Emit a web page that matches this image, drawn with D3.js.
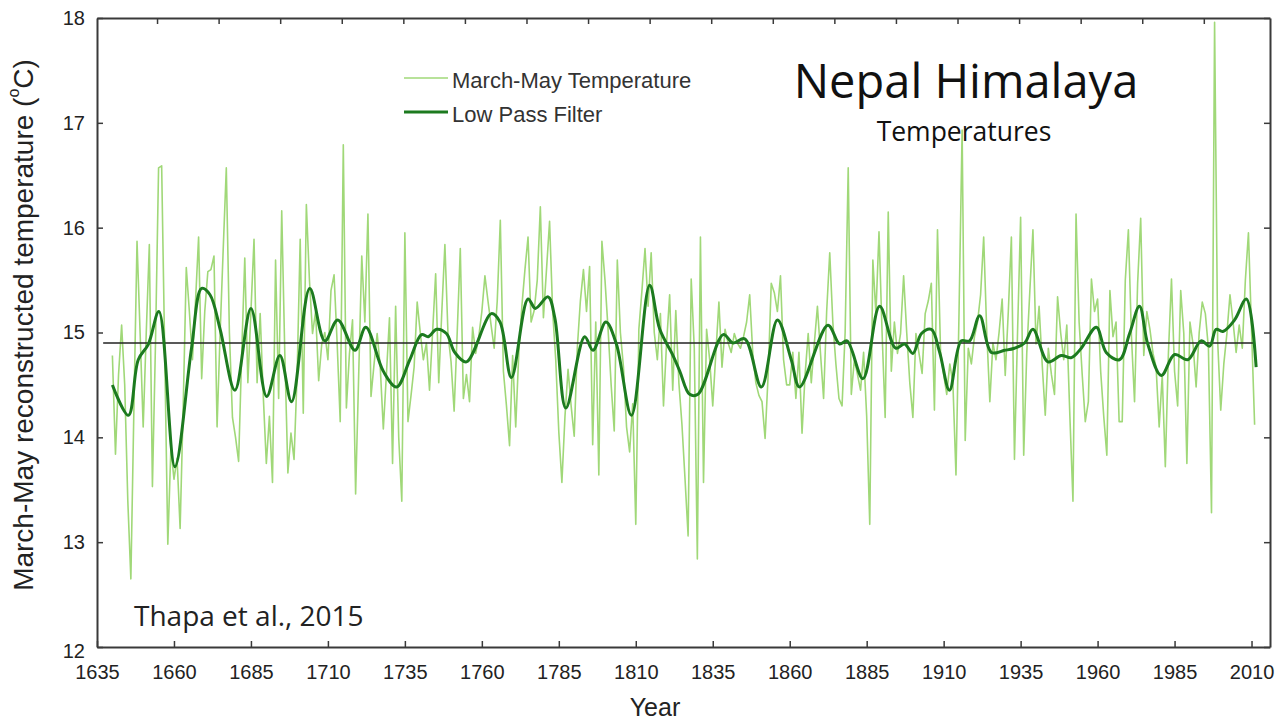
<!DOCTYPE html>
<html><head><meta charset="utf-8">
<script src="https://cdn.jsdelivr.net/npm/d3@7"></script>
<style>
html,body{margin:0;padding:0;background:#fff;}
svg{display:block;}
</style></head>
<body>
<svg id="chart" width="1287" height="722"></svg>
<script>
// ---- data ----
const startYear = 1640;
const temperature = [
// 1640-1649
14.78,13.84,14.6,15.07,14.5,13.4,12.65,14.3,15.87,15.0,
// 1650-1659
14.10,15.0,15.84,13.53,14.9,16.57,16.59,14.8,12.98,13.9,
// 1660-1669
13.6,13.8,13.13,14.3,15.62,15.2,14.74,15.3,15.91,14.56,
// 1670-1679
15.2,15.58,15.6,15.73,14.1,15.0,15.8,16.57,15.0,14.19,
// 1680-1689
14.0,13.77,14.8,15.71,14.52,15.2,15.89,14.52,15.18,14.4,
// 1690-1699
13.75,14.2,13.57,15.69,14.37,16.16,14.8,13.66,14.04,13.79,
// 1700-1709
14.6,15.89,14.23,16.22,15.5,14.99,15.2,14.54,14.89,15.0,
// 1710-1719
14.74,15.4,15.55,14.9,14.15,16.79,14.28,14.8,15.12,13.46,
// 1720-1729
14.6,15.73,15.1,16.13,14.39,14.7,14.99,14.67,14.08,14.6,
// 1730-1739
15.14,13.75,15.25,14.0,13.39,15.95,14.15,14.4,14.67,15.29,
// 1740-1749
15.0,14.74,14.9,14.45,15.0,15.56,14.52,15.2,15.84,14.99,
// 1750-1759
14.72,14.25,15.0,15.8,14.37,14.6,14.34,15.05,14.8,14.96,
// 1760-1769
15.2,15.54,15.3,15.07,14.85,15.3,16.07,14.63,14.3,13.92,
// 1770-1779
14.78,14.1,14.8,15.25,15.6,15.91,15.1,15.21,15.5,16.2,
// 1780-1789
15.14,15.6,16.06,15.2,14.74,14.05,13.57,14.2,14.65,14.3,
// 1790-1799
14.01,14.85,15.3,15.6,15.2,15.63,13.93,15.1,13.64,15.87,
// 1800-1809
15.5,15.03,14.5,14.06,15.69,15.0,14.67,14.1,13.86,14.32,
// 1810-1819
13.17,15.03,15.4,15.8,15.25,15.76,15.0,14.74,15.18,14.3,
// 1820-1829
14.9,15.36,14.45,15.21,14.52,14.12,13.6,13.06,15.51,14.85,
// 1830-1839
12.84,15.91,13.57,15.03,14.74,14.3,14.8,15.29,14.67,15.03,
// 1840-1849
14.9,14.81,14.99,14.9,14.85,14.96,15.1,15.36,14.8,14.52,
// 1850-1859
14.4,14.34,13.99,14.6,15.47,15.38,15.2,15.54,14.74,14.5,
// 1860-1869
14.5,14.81,14.37,14.81,14.04,14.6,14.99,14.52,14.9,15.25,
// 1870-1879
14.8,14.37,15.2,15.76,15.1,14.7,14.37,14.3,15.0,16.57,
// 1880-1889
14.41,14.74,14.6,14.45,14.81,14.2,13.17,15.69,15.18,15.96,
// 1890-1899
15.0,14.19,16.15,14.63,15.1,14.8,14.99,15.54,15.0,14.52,
// 1900-1909
14.19,14.99,14.8,14.61,15.18,15.3,15.47,14.26,15.98,14.81,
// 1910-1919
14.6,14.41,14.7,14.52,13.64,15.2,16.93,13.97,14.85,14.7,
// 1920-1929
14.96,15.1,15.36,15.91,15.0,14.34,14.9,14.74,15.0,15.32,
// 1930-1939
14.59,15.2,15.91,13.79,15.0,16.1,13.83,14.81,15.4,15.98,
// 1940-1949
14.89,15.25,14.7,14.21,14.85,14.6,14.41,15.34,15.0,14.74,
// 1950-1959
15.07,14.2,13.39,16.13,15.1,14.6,14.15,14.34,15.51,15.2,
// 1960-1969
15.32,14.63,14.2,13.83,15.4,14.96,15.1,14.15,14.15,15.5,
// 1970-1979
15.98,14.96,14.34,15.47,16.09,14.78,15.2,15.03,14.8,14.67,
// 1980-1989
14.1,14.59,13.72,14.8,15.51,14.63,14.3,15.4,14.99,13.75,
// 1990-1999
15.1,14.89,14.48,15.0,15.29,15.18,14.85,13.28,17.96,14.92,
// 2000-2011
14.26,14.7,14.99,15.36,15.1,14.81,15.07,14.85,15.5,15.95,15.03,14.12
];
const years = temperature.map((_, i) => startYear + i);

// low pass filter (year, value)
const filterYears = [1640,1645.2,1648.4,1651.7,1655.1,1660.3,1665.7,1669,1671.7,1675,1679.8,1685,1690.1,1694.4,1698.2,1704.1,1709,1713.2,1718.8,1722.3,1728,1732.3,1736.6,1740.4,1742.6,1745.3,1748.5,1751.2,1755,1763.1,1765.9,1769.6,1775,1777.4,1781.5,1783.7,1787.3,1793.4,1796.1,1800.3,1803.7,1808.6,1814.5,1817.8,1822.1,1824.3,1827.5,1830.2,1838.4,1841.6,1845.4,1850.8,1856,1860.5,1863.2,1872.4,1876.2,1878.6,1883.8,1889.2,1894.4,1897.3,1900,1902.8,1906,1908.7,1911.9,1915.7,1918.4,1921.7,1925.5,1929.8,1933,1936.3,1939,1943.9,1948.2,1951.5,1954.7,1959.6,1962.8,1967.1,1970.4,1973.6,1976.3,1980.7,1985,1989.3,1993.6,1996.4,1998.5,2000.7,2004.5,2008.3,2011.5];
const filterValues = [14.5,14.21,14.74,14.89,15.2,13.72,14.85,15.42,15.36,15.03,14.45,15.23,14.39,14.78,14.34,15.42,14.92,15.12,14.83,15.05,14.63,14.48,14.74,14.98,14.96,15.03,14.99,14.81,14.72,15.18,15.1,14.57,15.32,15.23,15.34,15.14,14.28,14.96,14.83,15.1,14.89,14.21,15.45,15.03,14.78,14.63,14.41,14.41,14.98,14.9,14.94,14.48,15.12,14.74,14.48,15.07,14.89,14.92,14.56,15.25,14.85,14.89,14.8,14.99,15.03,14.81,14.45,14.92,14.92,15.16,14.81,14.83,14.85,14.9,15.03,14.72,14.78,14.76,14.85,15.05,14.81,14.74,14.99,15.25,14.89,14.59,14.79,14.74,14.92,14.87,15.03,15.01,15.12,15.32,14.67];

const meanValue = 14.9;
const meanRange = [1637, 2011];

const xTicks = [1635,1660,1685,1710,1735,1760,1785,1810,1835,1860,1885,1910,1935,1960,1985,2010];
const topTicks = [1654.5,1674.5,1694.5,1714.5,1734.5,1754.5,1774.5,1794.5,1814.5,1834.5,1854.5,1874.5,1894.5,1914.5,1934.5,1954.5,1974.5,1994.5];
const yTicks = [12,13,14,15,16,17,18];

const legendLabels = ["March-May Temperature", "Low Pass Filter"];
const titleText = "Nepal Himalaya";
const subtitleText = "Temperatures";
const sourceText = "Thapa et al., 2015";
const xTitle = "Year";
const yTitle = "March-May reconstructed temperature (";

// ---- layout ----
const svg = d3.select("#chart");
const L = 97, R = 1270, T = 18, B = 647;
const x = d3.scaleLinear().domain([1635, 2016]).range([L, R]);
const y = d3.scaleLinear().domain([12, 18]).range([B, T]);

const lightGreen = "#a0d878";
const darkGreen = "#1c7a1f";
const font = "'Liberation Sans', Arial, Helvetica, sans-serif";
const font2 = "'Open Sans', 'Noto Sans', sans-serif";

svg.append("clipPath").attr("id","clip").append("rect")
  .attr("x", L).attr("y", T).attr("width", R-L).attr("height", B-T);

const line = d3.line().x((d,i)=>x(years[i])).y(d=>y(d));
svg.append("path").datum(temperature)
  .attr("d", line)
  .attr("fill","none").attr("stroke", lightGreen).attr("stroke-width", 1.6)
  .attr("stroke-linejoin","round")
  .attr("clip-path","url(#clip)");

svg.append("line")
  .attr("x1", x(meanRange[0])).attr("x2", x(meanRange[1]))
  .attr("y1", y(meanValue)).attr("y2", y(meanValue))
  .attr("stroke","#222").attr("stroke-width",1.5);

const fline = d3.line().x((d,i)=>x(filterYears[i])).y(d=>y(d)).curve(d3.curveCatmullRom.alpha(0.5));
svg.append("path").datum(filterValues)
  .attr("d", fline)
  .attr("fill","none").attr("stroke", darkGreen).attr("stroke-width", 3)
  .attr("stroke-linejoin","round");

const axisColor = "#3a3a3a";
const gBottom = svg.append("g").attr("transform", `translate(0,${B})`)
  .call(d3.axisBottom(x).tickValues(xTicks).tickFormat(d3.format("d")).tickSizeInner(-6).tickSizeOuter(0).tickPadding(18));
const gLeft = svg.append("g").attr("transform", `translate(${L},0)`)
  .call(d3.axisLeft(y).tickValues(yTicks).tickFormat(d3.format("d")).tickSizeInner(-6).tickSizeOuter(0).tickPadding(12));
const gTop = svg.append("g").attr("transform", `translate(0,${T})`)
  .call(d3.axisTop(x).tickValues(topTicks).tickFormat("").tickSizeInner(-6).tickSizeOuter(0));
const gRight = svg.append("g").attr("transform", `translate(${R},0)`)
  .call(d3.axisRight(y).tickValues(yTicks).tickFormat("").tickSizeInner(-6).tickSizeOuter(0));
[gBottom,gLeft,gTop,gRight].forEach(g=>{
  g.select(".domain").attr("stroke", axisColor).attr("stroke-width",2);
  g.selectAll(".tick line").attr("stroke", axisColor).attr("stroke-width",1.5);
  g.selectAll("text").attr("font-family", font).attr("font-size", 20).attr("fill","#222");
});
gLeft.selectAll(".tick").filter(d=>d===12).select("text").attr("dy","0.5em");

svg.append("text").attr("x", 655).attr("y", 716).attr("text-anchor","middle")
  .attr("font-family", font).attr("font-size", 25).attr("fill","#222").text(xTitle);
const yt = svg.append("text").attr("transform", `translate(33,325) rotate(-90)`)
  .attr("text-anchor","middle").attr("font-family", font).attr("font-size", 28).attr("fill","#222");
yt.append("tspan").text(yTitle);
yt.append("tspan").attr("font-size",16).attr("dy","-0.85em").text("o");
yt.append("tspan").attr("dy","0.5em").text("C)");

svg.append("text").attr("x", 966).attr("y", 98).attr("text-anchor","middle")
  .attr("font-family", font2).attr("font-size", 47).attr("fill","#111").text(titleText);
svg.append("text").attr("x", 964).attr("y", 141).attr("text-anchor","middle")
  .attr("font-family", font2).attr("font-size", 26.5).attr("fill","#111").text(subtitleText);
svg.append("text").attr("x", 134).attr("y", 626)
  .attr("font-family", font2).attr("font-size", 28).attr("fill","#222").text(sourceText);

const legend = svg.append("g");
const legColors = [lightGreen, darkGreen], legWidths = [1.6, 3];
legendLabels.forEach((lab,i)=>{
  const yy = 78 + i*34;
  legend.append("line").attr("x1",404).attr("x2",448).attr("y1",yy).attr("y2",yy)
    .attr("stroke",legColors[i]).attr("stroke-width",legWidths[i]);
  legend.append("text").attr("x",452).attr("y",yy+10)
    .attr("font-family", font).attr("font-size",22).attr("fill","#333").text(lab);
});
</script>
</body></html>
